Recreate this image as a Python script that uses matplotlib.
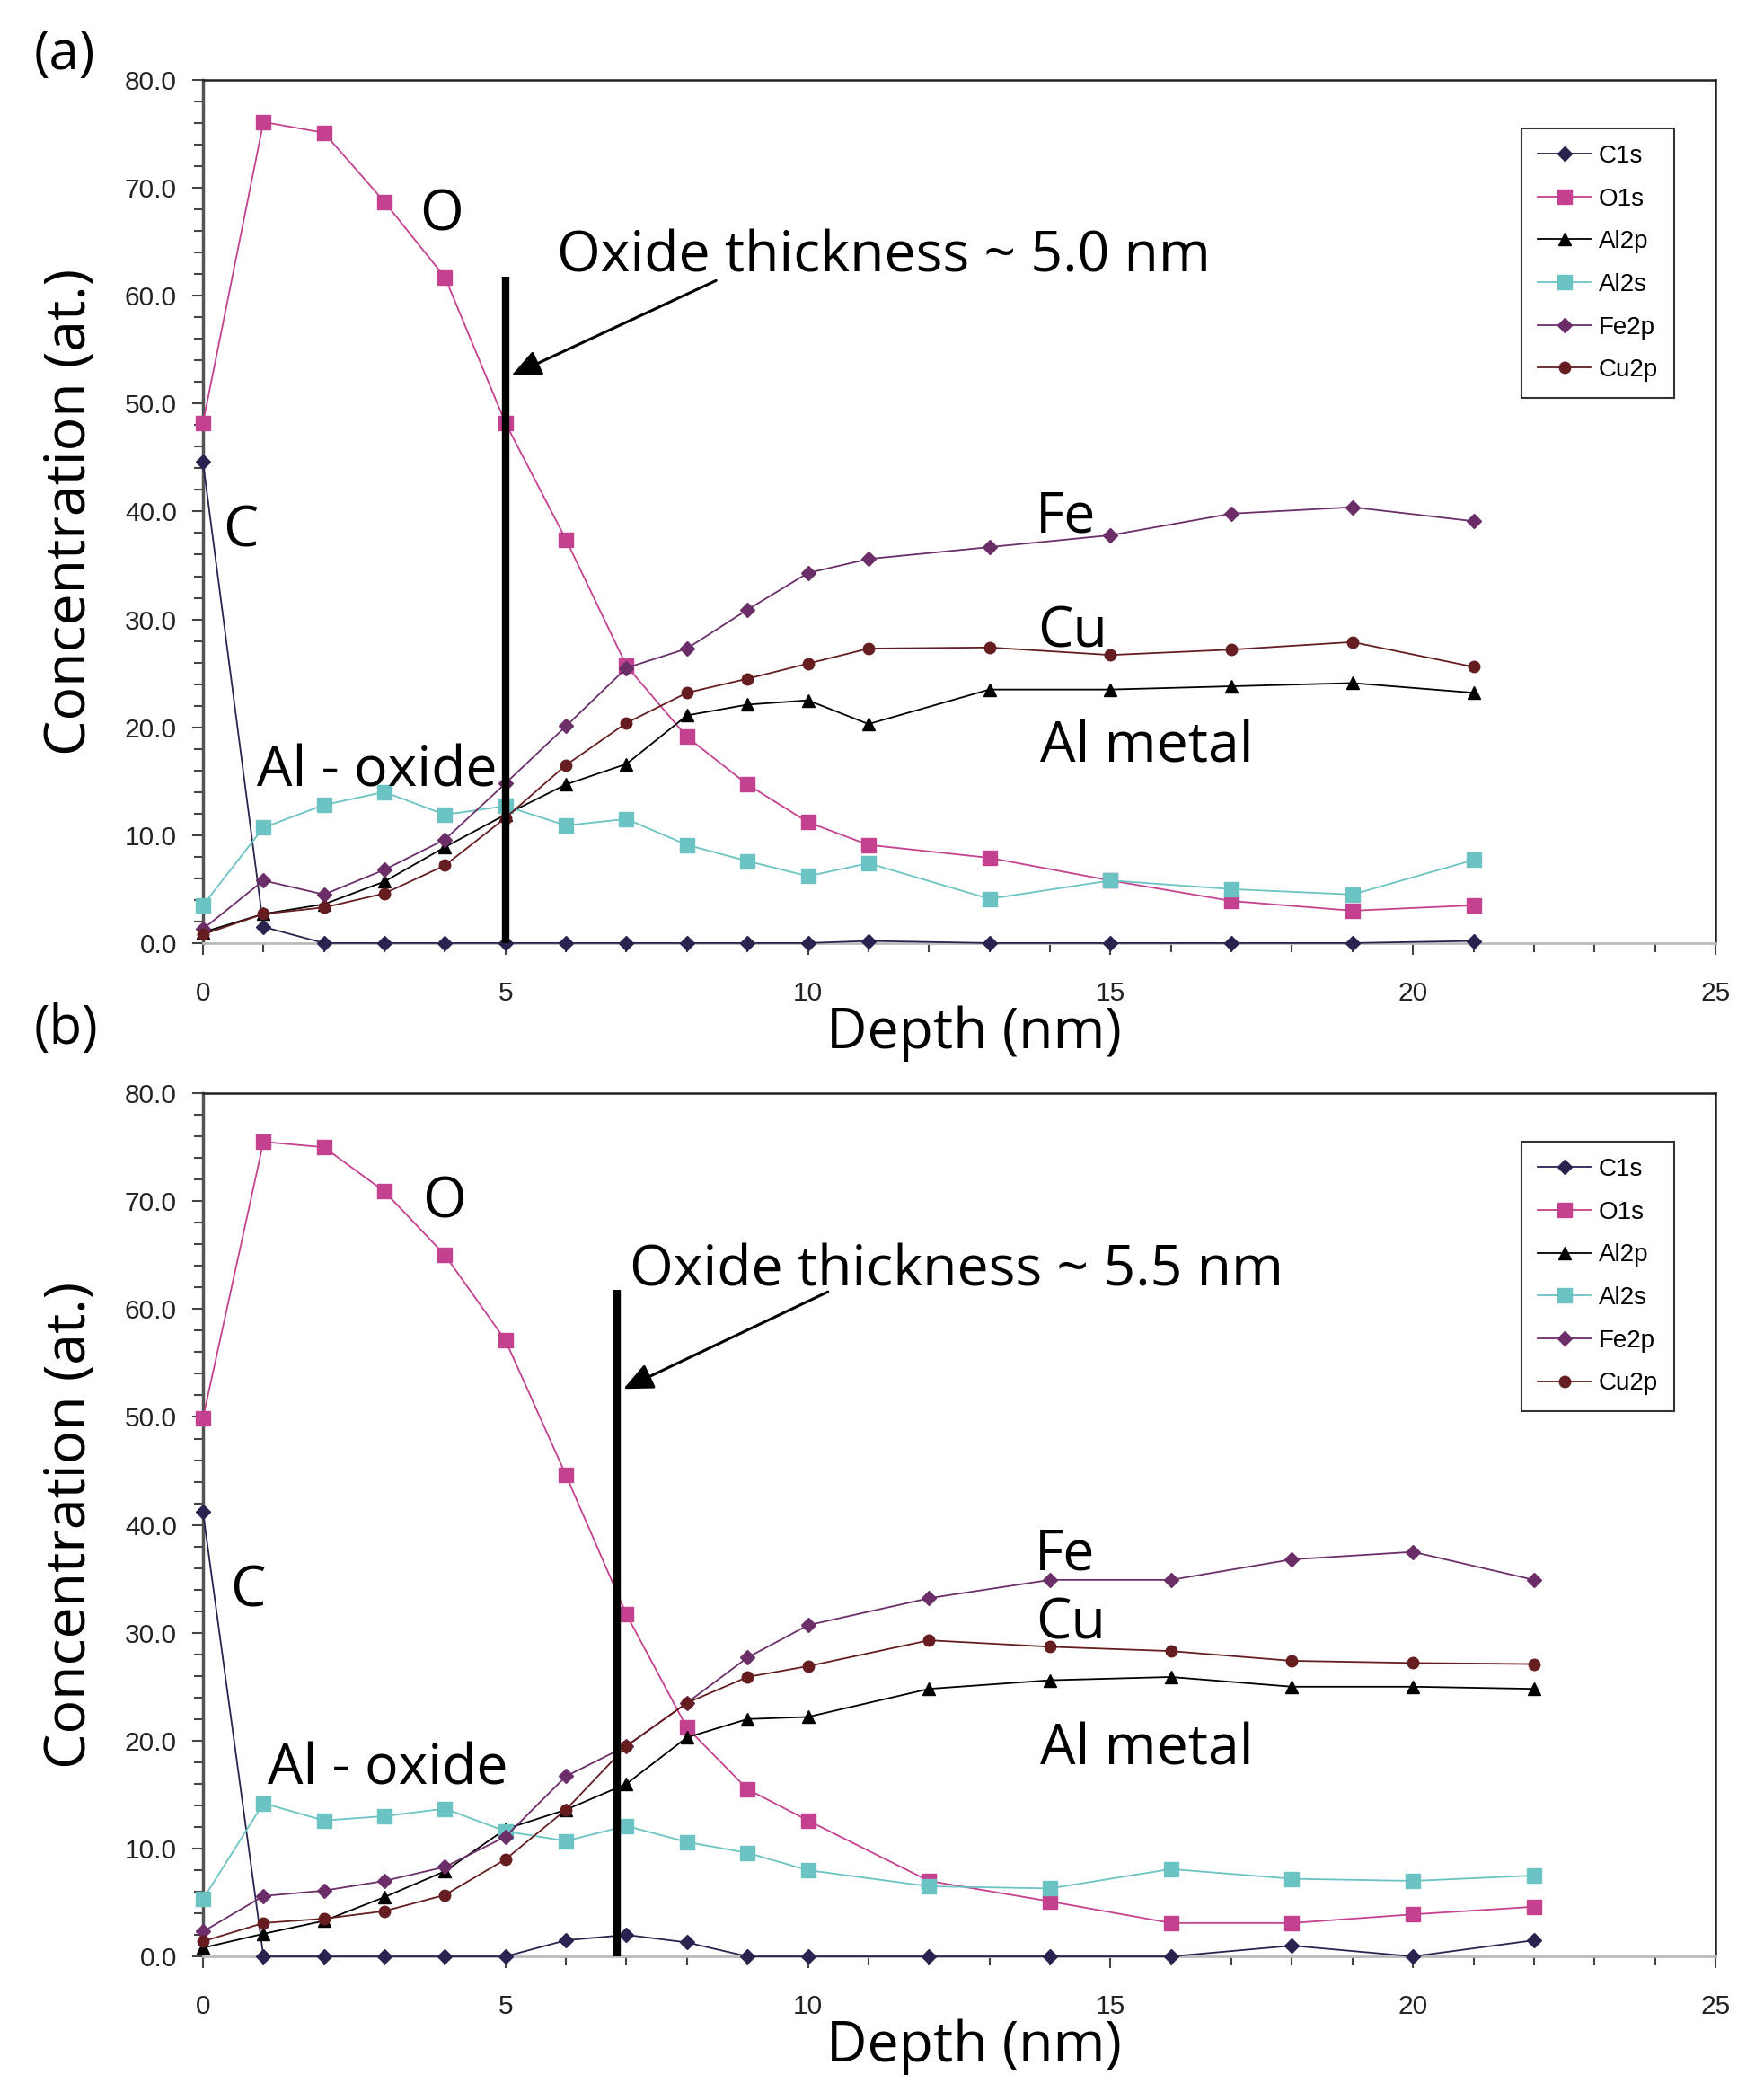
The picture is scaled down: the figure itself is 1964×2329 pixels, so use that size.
import numpy as np
import matplotlib
matplotlib.use("Agg")
import matplotlib.pyplot as plt
from matplotlib.ticker import MultipleLocator, FormatStrFormatter

# ---- data, panel (a) ----
depth_a = [0, 1, 2, 3, 4, 5, 6, 7, 8, 9, 10, 11, 13, 15, 17, 19, 21]
c1s_a = [44.6, 1.5, 0.0, 0.0, 0.0, 0.0, 0.0, 0.0, 0.0, 0.0, 0.0, 0.2, 0.0, 0.0, 0.0, 0.0, 0.2]
o1s_a = [48.2, 76.1, 75.1, 68.7, 61.7, 48.2, 37.4, 25.7, 19.1, 14.7, 11.2, 9.1, 7.9, 5.8, 3.9, 3.0, 3.5]
al2p_a = [1.0, 2.7, 3.6, 5.7, 8.9, 11.9, 14.7, 16.6, 21.1, 22.1, 22.5, 20.3, 23.5, 23.5, 23.8, 24.1, 23.2]
al2s_a = [3.5, 10.7, 12.8, 14.0, 11.9, 12.7, 10.9, 11.5, 9.1, 7.6, 6.2, 7.4, 4.1, 5.8, 5.0, 4.5, 7.7]
fe2p_a = [1.3, 5.8, 4.5, 6.8, 9.6, 14.8, 20.1, 25.5, 27.3, 30.9, 34.3, 35.6, 36.7, 37.8, 39.8, 40.4, 39.1]
cu2p_a = [0.8, 2.7, 3.3, 4.6, 7.2, 11.6, 16.5, 20.4, 23.2, 24.5, 25.9, 27.3, 27.4, 26.7, 27.2, 27.9, 25.6]

# ---- data, panel (b) ----
depth_b = [0, 1, 2, 3, 4, 5, 6, 7, 8, 9, 10, 12, 14, 16, 18, 20, 22]
c1s_b = [41.2, 0.0, 0.0, 0.0, 0.0, 0.0, 1.5, 2.0, 1.3, 0.0, 0.0, 0.0, 0.0, 0.0, 1.0, 0.0, 1.5]
o1s_b = [49.9, 75.5, 75.0, 70.9, 65.0, 57.1, 44.6, 31.7, 21.2, 15.5, 12.6, 7.0, 5.1, 3.1, 3.1, 3.9, 4.6]
al2p_b = [0.8, 2.1, 3.3, 5.5, 7.9, 11.8, 13.6, 16.0, 20.3, 22.0, 22.2, 24.8, 25.6, 25.9, 25.0, 25.0, 24.8]
al2s_b = [5.3, 14.2, 12.6, 13.0, 13.7, 11.6, 10.7, 12.1, 10.6, 9.6, 8.0, 6.5, 6.3, 8.1, 7.2, 7.0, 7.5]
fe2p_b = [2.3, 5.6, 6.1, 7.0, 8.3, 11.1, 16.7, 19.5, 23.5, 27.7, 30.7, 33.2, 34.9, 34.9, 36.8, 37.5, 34.9]
cu2p_b = [1.4, 3.1, 3.5, 4.2, 5.7, 9.0, 13.6, 19.5, 23.5, 25.9, 26.9, 29.3, 28.7, 28.3, 27.4, 27.2, 27.1]

series_names = ["C1s", "O1s", "Al2p", "Al2s", "Fe2p", "Cu2p"]
colors = ["#28244f", "#c4418f", "#000000", "#6cc3c4", "#6b2e69", "#651d20"]
markers = ["D", "s", "^", "s", "D", "o"]
msizes = [8, 11, 10, 11, 8, 9]

# oxide thickness line position and labels
oxide_x = [5.0, 6.85]
oxide_text = ["Oxide thickness ~ 5.0 nm", "Oxide thickness ~ 5.5 nm"]

FONT = "Open Sans"
TICKFONT = "Liberation Sans"

fig = plt.figure(figsize=(19.65, 23.29), dpi=100)
ax_a = fig.add_axes([0.115, 0.5492, 0.857, 0.4126])
ax_b = fig.add_axes([0.115, 0.0648, 0.857, 0.4126])


def draw_panel(ax, depth, data, ox, lbl_pos, arrow):
    for vals, name, col, mk, ms in zip(data, series_names, colors, markers, msizes):
        ax.plot(depth, vals, color=col, marker=mk, markersize=ms, lw=1.3,
                label=name, clip_on=False, zorder=3)

    ax.plot([ox, ox], [0, 61.8], color="black", lw=6, solid_capstyle="butt", zorder=4)
    ax.annotate("", xy=arrow[1], xytext=arrow[0],
                arrowprops=dict(arrowstyle="-|>,head_length=2.0,head_width=0.9",
                                color="black", lw=2.2, shrinkA=0, shrinkB=0))

    for txt, (x, y) in lbl_pos.items():
        ax.text(x, y, txt, fontsize=45, family=FONT, va="center", ha="left", zorder=5)

    ax.set_xlim(0, 25)
    ax.set_ylim(0, 80)
    ax.xaxis.set_major_locator(MultipleLocator(5))
    ax.xaxis.set_minor_locator(MultipleLocator(1))
    ax.yaxis.set_major_locator(MultipleLocator(10))
    ax.yaxis.set_minor_locator(MultipleLocator(2))
    ax.yaxis.set_major_formatter(FormatStrFormatter("%.1f"))
    ax.tick_params(which="major", length=9, width=1.5, color="#444444", direction="out")
    ax.tick_params(which="minor", length=7, width=1.5, color="#444444", direction="out")
    ax.tick_params(axis="y", which="major", pad=12, labelsize=21.5, labelcolor="#222222")
    ax.tick_params(axis="x", which="major", pad=21, labelsize=21.5, labelcolor="#222222")
    for t in ax.get_xticklabels() + ax.get_yticklabels():
        t.set_family(TICKFONT)

    ax.spines["left"].set_color("#555555")
    ax.spines["left"].set_linewidth(2.5)
    ax.spines["bottom"].set_color("#bbbbbb")
    ax.spines["bottom"].set_linewidth(2)
    ax.spines["top"].set_color("#222222")
    ax.spines["top"].set_linewidth(1.8)
    ax.spines["right"].set_color("#222222")
    ax.spines["right"].set_linewidth(1.8)

    ax.set_xlabel("Depth (nm)", fontsize=45, family=FONT, va="top")
    ax.xaxis.set_label_coords(0.51, -0.072)
    ax.set_ylabel("Concentration (at.)", fontsize=45, family=FONT)
    ax.yaxis.set_label_coords(-0.069, 0.5)

    leg = ax.legend(loc="upper left", bbox_to_anchor=(0.872, 0.944), frameon=True,
                    fancybox=False, edgecolor="black", prop={"family": TICKFONT, "size": 20},
                    handlelength=2.1, handletextpad=0.32, labelspacing=0.78,
                    borderpad=0.65, borderaxespad=0)
    leg.get_frame().set_linewidth(1.5)


labels_a = {
    "O": (3.58, 67.4),
    "C": (0.33, 38.1),
    "Al - oxide": (0.89, 15.9),
    "Fe": (13.76, 39.4),
    "Cu": (13.8, 28.8),
    "Al metal": (13.84, 18.1),
    oxide_text[0]: (5.85, 63.6),
}
labels_b = {
    "O": (3.62, 69.8),
    "C": (0.45, 33.8),
    "Al - oxide": (1.07, 17.3),
    "Fe": (13.74, 37.2),
    "Cu": (13.77, 30.8),
    "Al metal": (13.84, 19.1),
    oxide_text[1]: (7.05, 63.5),
}

draw_panel(ax_a, depth_a, [c1s_a, o1s_a, al2p_a, al2s_a, fe2p_a, cu2p_a],
           oxide_x[0], labels_a, ((8.48, 61.4), (5.1, 52.6)))
draw_panel(ax_b, depth_b, [c1s_b, o1s_b, al2p_b, al2s_b, fe2p_b, cu2p_b],
           oxide_x[1], labels_b, ((10.33, 61.6), (6.95, 52.6)))

fig.text(0.0366, 0.974, "(a)", fontsize=43, family=FONT, ha="center", va="center")
fig.text(0.0375, 0.508, "(b)", fontsize=43, family=FONT, ha="center", va="center")

fig.savefig("out.png", dpi=100, facecolor="white")
